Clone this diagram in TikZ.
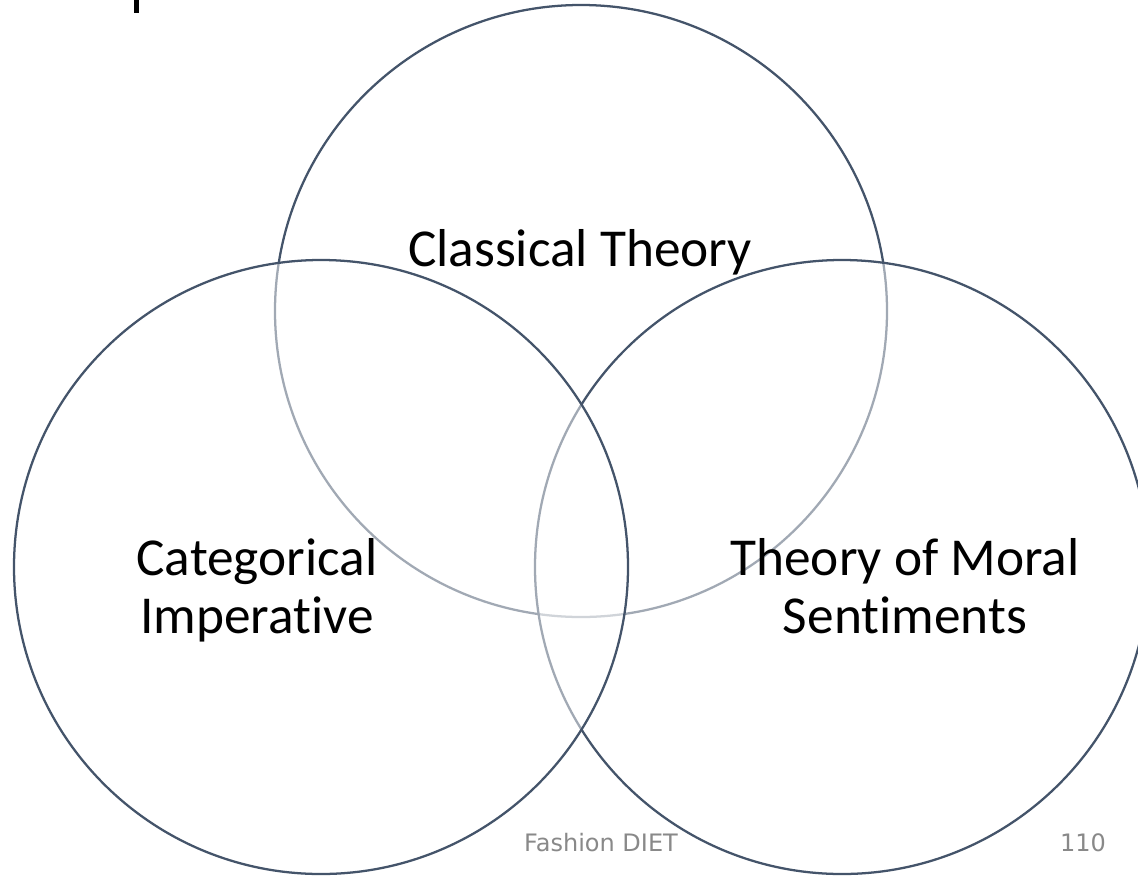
\documentclass[tikz,border=0pt]{standalone}
\usepackage{fontspec}
\setmainfont{Carlito}[Ligatures=NoCommon]
\newfontfamily\footfont{DejaVu Sans}
\usetikzlibrary{positioning}
\definecolor{ringline}{HTML}{44546A}
\definecolor{footgray}{HTML}{898989}
\tikzset{
  ring/.style = {draw=ringline, line width=1.7pt, fill=white, fill opacity=0.5},
  lbl/.style  = {align=center, inner sep=0pt,
                 font=\fontsize{40pt}{43pt}\selectfont},
  foot/.style = {text=footgray, inner sep=0pt,
                 font=\footfont\fontsize{18pt}{20pt}\selectfont},
}

\begin{document}
\begin{tikzpicture}[x=0.75pt, y=-0.75pt]
    \fill[white] (0,0) rectangle (1138,875);
    \useasboundingbox (0,0) rectangle (1138,875);
    \clip (0,0) rectangle (1138,875);

    % cut-off title glyph
    \fill (134,0) rectangle (138.5,13);

    % the three rings, back to front
    \draw[ring] (581,311) circle (306);
    \draw[ring] (842,567) circle (307);
    \draw[ring] (321,567) circle (307);

    \node[lbl] (classical) at (580,255) {\strut Classical Theory};
    \node[lbl] (kant) at (257,593) {\strut Categorical\\\strut Imperative};
    \node[lbl] (smith) at (905,593) {\strut Theory of Moral\\\strut Sentiments};

    \node[foot] (footer) at (601,843) {Fashion DIET};
    \node[foot] (page) at (1083,843) {110};
  \end{tikzpicture}
\end{document}
